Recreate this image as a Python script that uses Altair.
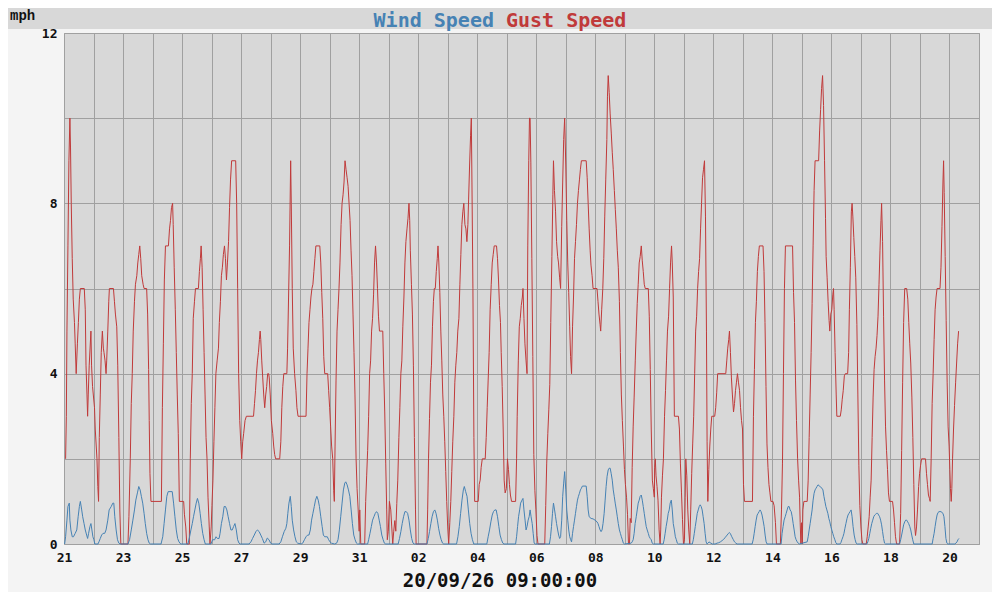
import altair as alt
import pandas as pd

# ---------------- data (hours since 21 Aug 00:00, mph) ----------------
series_names = ["Wind Speed", "Gust Speed"]
unit_label = "mph"
stamp_label = "20/09/26 09:00:00"
tick_labels = ["21", "23", "25", "27", "29", "31", "02", "04", "06", "08",
               "10", "12", "14", "16", "18", "20"]
y_ticks = [0, 2, 4, 6, 8, 10, 12]

gust_1 = [(1.3,2),(1.9,3),(2.4,5),(3.2,7),(4.0,9),(4.8,10),(5.3,9.3),(5.9,8),(6.7,6.7),(7.5,5.75),(8.5,5.2),(9.1,4.7),(9.9,4.0),(10.9,4.7),(11.7,5.2),(12.5,5.75),(13.3,6),(16.5,6),(17.3,5.5),(17.9,4.2),(18.7,3.5),(19.2,3.0),(19.7,3.5),(20.5,4.2),(21.9,5),(22.4,4.2),(23.2,3.7),
          (24.8,3.2),(25.4,2.7),(26.8,2.0),(27.5,1.35),(28.1,1.0),(28.7,2.5),(29.5,3.5),(30.3,4.5),(31.2,5),(32.0,4.6),(32.5,4.5),(33.4,4.3),(34.2,4.0),(34.7,4.3),(35.6,5.0),(36.4,5.7),(36.9,6),(40.2,6),(41.0,5.7),(41.8,5.4),(42.9,5.1),(43.7,4.2),(44.6,2.5),(45.4,0.8),(46.2,0),
          (52.0,0),(52.8,0.65),(53.9,2),(54.7,3.3),(55.5,4.0),(56.3,5),(57.3,5.7),(58.1,6.1),(59.2,6.3),(60.0,6.6),(60.8,6.8),(61.6,7),(62.4,6.7),(63.2,6.3),(64.3,6.1),(65.1,6),(67.2,6),(68.0,5.4),(68.8,4.1),(69.3,2.9),(69.9,1.66),(70.7,1.0),
          (79.2,1.0),(80.0,3.2),(80.8,4.7),(81.6,6.2),(82.5,7),(84.9,7),(85.8,7.4),(86.6,7.6),(87.4,7.9),(88.3,8),(88.8,7.5),(89.6,6.5),(90.5,5.5),(91.3,4.5),(92.1,3.5),(92.9,2.6),(93.8,1.0),
          (97.3,1.0),(97.9,0.7),(99.0,0.4),(99.8,0),(101.9,0),(102.7,2.0),(103.5,3.3),(104.3,4.0),(105.1,5.3),(106.1,5.7),(106.9,6),(109.3,6),(110.1,6.4),(110.9,6.7),(111.5,7),(112.3,6.5),(113.1,5.5),(113.9,4.5),(114.7,3.5),(115.5,2.5),(116.3,2.0),(117.1,1.1),(118.1,0.4),(118.7,0),(119.7,0.4),
          (120.3,0.9),(121.1,1.5),(121.9,2.4),(122.7,3.2),(123.5,4.0),(124.5,4.3),(125.6,4.6)]

gust_2 = [(126.3,5.2),(127.2,5.7),(128.0,6.3),(128.8,6.5),(129.6,6.8),(130.5,7.0),(131.3,6.7),(132.1,6.2),(132.9,6.6),(133.8,7.1),(134.6,7.9),(135.4,8.55),(136.3,9),(139.6,9),(140.4,8),(141.2,6),(142.0,4),(142.9,2.9),(143.7,2.4),
          (144.5,2.0),(145.3,2.4),(146.1,2.6),(147.2,2.9),(148.3,3.0),(154.1,3.0),(154.9,3.3),(155.7,3.6),(156.5,4.0),(157.3,4.3),(158.1,4.5),(158.9,4.8),(159.5,5.0),(160.0,4.8),(160.8,4.3),(161.6,3.9),(162.4,3.5),(163.2,3.2),(164.0,3.5),(164.8,3.7),(165.6,4.0),(166.4,4.0),(166.9,3.9),(167.7,3.5),
          (168.6,2.9),(169.7,2.6),(170.5,2.3),(171.3,2.1),(172.1,2.0),(175.4,2.0),(176.3,2.4),(177.1,3.2),(177.9,3.7),(178.7,4.0),(181.2,4.0),(181.8,4.6),(182.6,5.8),(183.4,7.0),(184.3,9.0),(184.8,8.0),(185.6,6.0),(186.4,4.6),(187.5,4.0),(188.6,3.6),(189.4,3.2),(190.3,3.0),
          (196.8,3.0),(197.6,4.0),(198.4,4.6),(199.2,5.2),(200.0,5.5),(200.8,5.8),(201.6,6.0),(202.4,6.1),(203.2,6.4),(204.0,6.7),(204.8,7.0),(208.0,7.0),(208.8,6.6),(209.6,5.9),(210.4,5.3),(211.2,4.4),(212.0,4.0),(214.4,4.0),(215.2,3.6),
          (216.0,3.2),(216.8,2.75),(217.6,2.3),(218.5,2.0),(219.3,1.25),(219.8,1.0),(220.4,2.3),(221.2,3.85),(222.0,5.0),(222.8,5.5),(223.6,6.0),(224.4,6.6),(225.3,7.5),(226.1,8.0),(226.9,8.2),(227.7,8.5),(228.5,9.0),(229.3,8.8),(230.2,8.6),(231.0,8.4),(231.8,8.0),(232.6,7.6),(233.4,6.9),(234.2,6.3),(235.0,5.4),(235.8,4.5),(236.6,3.5),(237.5,2.0),(238.3,1.3),(239.2,0.8),(240.0,0.3)]

gust_3 = [(240.5,0.8),(241.3,0),(244.5,0),(245.3,1.0),(246.1,1.6),(246.9,2.2),(247.7,3.0),(248.5,4.0),(249.3,4.3),(250.1,5.0),(250.9,5.3),(251.7,5.85),(252.5,6.6),(253.3,7.0),(254.1,6.6),(254.9,6.0),(255.7,5.35),(256.5,5.0),(259.2,5.0),(260.0,4.0),(260.8,3.1),(261.6,1.9),(262.4,0.8),(262.9,0.1),(263.7,0.3),
          (264.6,1.0),(265.7,0.8),(266.5,0.4),(267.3,0),(268.1,0.3),(269.0,0.55),(269.8,0.3),(270.6,0.95),(271.4,1.5),(272.3,2.5),(273.1,3.2),(273.9,4.0),(274.7,4.3),(275.5,5.1),(276.4,5.8),(277.2,6.6),(278.0,7.1),(278.9,7.4),(279.7,7.65),(280.5,8.0),(281.1,7.6),(281.6,6.9),(282.5,6.1),(283.3,5.4),(284.1,4.2),(284.9,2.5),(285.8,0.8),(286.3,0),
          (295.1,0),(295.7,0.8),(296.4,2.0),(297.2,2.95),(298.0,3.8),(298.8,4.2),(299.6,5.1),(300.4,5.7),(301.1,6.0),(301.9,6.0),(302.7,6.4),(303.5,6.7),(304.1,7.0),(304.8,6.6),(305.6,5.9),(306.4,5.0),(307.2,4.3),(308.0,3.5),(308.8,3.0),(309.6,2.4),(310.4,1.7),(311.2,1.0),
          (312.0,0.4),(312.8,0),(313.7,0.5),(314.5,1.0),(315.3,1.7),(316.1,2.4),(317.0,3.0),(317.8,3.8),(318.6,4.2),(319.4,4.5),(320.2,5.0),(321.1,5.3),(321.9,6.1),(322.7,6.8),(323.5,7.5),(324.3,7.8),(325.1,8.0),(326.0,7.5),(326.8,7.4),(327.6,7.1),(328.4,7.5),(329.0,8.1),(329.8,8.9),(330.6,9.6),(331.2,10.0),(331.7,8.5),(332.5,6.0),(333.3,2.5),(333.9,1.0),
          (336.8,1.0),(337.6,1.4),(338.4,1.5),(339.2,1.8),(340.1,2.0),(342.5,2.0),(343.3,2.5),(344.1,3.2),(344.9,3.85),(345.7,4.5),(346.5,5.5),(347.4,6.1),(348.2,6.6),(349.0,6.8),(349.8,7.0),(351.7,7.0),(352.5,6.7),(353.3,6.2),(354.1,5.6),(354.9,5.2),(355.5,4.5),(356.3,3.7),(357.1,2.7),(357.9,1.5),(358.7,1.2)]

gust_4 = [(359.7,1.3),(360.6,2.0),(361.4,1.75),(362.2,1.4),(363.0,1.15),(363.9,1.0),(367.2,1.0),(368.0,2.0),(368.5,3.0),(369.4,4.3),(370.2,5.1),(371.0,5.3),(371.8,5.6),(372.7,5.8),(373.2,6.0),(374.0,5.3),(374.8,4.7),(375.7,4.3),(376.5,4.0),(377.1,7.0),(377.9,9.0),(378.5,10.0),(379.0,10.0),(379.6,8.95),(380.4,6.7),(381.2,4.4),(382.0,2.1),(382.9,1.25),(383.7,0.8),
          (384.6,0.2),(385.4,0),(390.9,0),(391.7,0.9),(392.5,1.9),(393.4,2.6),(394.2,3.15),(395.0,3.75),(395.8,5.2),(396.7,6.75),(397.5,8.2),(398.0,9.0),(398.8,8.3),(399.7,7.8),(400.5,7.1),(401.4,6.75),(402.1,6.6),(403.0,6.25),(403.8,6.0),(404.7,7.45),(405.5,8.5),(406.3,9.5),(407.1,10.0),
          (408.0,8.9),(408.8,7.6),(409.6,6.6),(410.4,5.9),(411.2,5.1),(411.9,4.4),(412.7,4.0),(413.5,5.1),(414.3,5.8),(415.1,6.7),(415.9,7.1),(416.7,7.5),(417.5,8.0),(418.3,8.3),(419.1,8.55),(419.9,8.8),(420.7,9.0),(424.6,9.0),(425.4,8.6),(426.2,8.0),(427.0,7.4),(427.8,6.9),(428.5,6.55),(429.4,6.3),(430.2,6.0),
          (433.4,6.0),(434.2,5.7),(435.0,5.4),(435.9,5.15),(436.4,5.0),(437.2,5.5),(438.1,6.0),(438.9,6.7),(439.7,7.7),(440.5,8.55),(441.4,9.5),(441.9,10.5),(442.5,11.0),(443.3,10.6),(444.1,10.1),(445.0,9.65),(445.8,9.2),(446.6,8.8),(447.5,8.3),(448.3,7.85),(449.1,7.4),(449.9,6.9),(450.7,6.5),(451.6,5.7),(452.4,4.5),(453.2,3.5),(454.0,2.9),(454.9,2.3),(455.7,1.75),
          (456.5,1.4),(457.4,1.1),(458.2,0.7),(459.0,0),(459.8,0),(460.4,0.6),(461.2,0.5),(462.0,1.8),(462.8,2.75),(463.6,3.45),(464.5,4.3),(465.3,5.0),(466.1,5.65),(466.9,6.1),(467.7,6.6),(468.5,6.75),(469.4,7.0),(470.2,6.65),(471.0,6.4),(471.8,6.1),(472.6,6.0),(475.1,6.0),(475.9,5.35),(476.7,4.1),(477.5,2.7),(478.4,1.5),(479.2,1.3),(480.0,1.1)]

gust_5 = [(480.3,1.8),(480.8,2.0),(481.4,1.6),(482.2,1.35),(483.0,1.03),(483.9,0.33),(484.7,0),(485.2,0.33),(485.8,1.1),(486.6,1.6),(487.4,2.0),(488.3,3.0),(489.1,3.6),(489.9,4.3),(490.7,5.0),(491.6,5.35),(492.4,6.0),(493.2,6.6),(494.0,7.0),(494.6,6.6),(495.4,5.8),(496.3,3.0),(499.6,3.0),(500.4,2.7),(501.2,1.9),(502.1,1.2),(502.9,0.57),(503.7,0),
          (504.5,0.1),(505.1,1.1),(505.6,2.0),(506.4,1.6),(507.2,0.8),(508.0,0.33),(508.8,0),(509.6,0.8),(510.4,1.66),(511.2,2.35),(512.0,3.0),(512.8,4.0),(513.6,5.0),(514.4,5.35),(515.2,6.0),(516.0,6.4),(516.8,6.7),(517.6,7.4),(518.4,8.0),(519.2,8.6),(520.0,8.8),(520.8,9.0),(521.6,7.7),(522.4,5.0),(522.9,2.4),(523.5,1.0),(524.3,1.75),(525.1,2.3),(525.9,2.7),(526.7,3.0),
          (529.1,3.0),(529.9,3.2),(530.7,3.55),(531.5,4.0),(538.1,4.0),(538.9,4.3),(539.7,4.6),(540.5,4.8),(541.1,5.0),(541.9,4.5),(542.7,3.9),(543.5,3.5),(544.4,3.1),(545.2,3.3),(546.0,3.6),(546.8,3.8),(547.6,4.0),(548.4,3.8),(549.3,3.6),(550.1,3.2),(550.9,2.9),(551.7,2.7),
          (552.5,1.4),(553.3,1.0),(559.8,1.0),(560.6,3.0),(561.4,4.1),(562.2,5.2),(563.0,5.7),(563.8,6.4),(564.6,6.75),(565.4,7.0),(568.4,7.0),(569.2,6.4),(570.0,5.2),(570.8,3.7),(571.6,2.35),(572.4,1.8),(573.2,1.4),(574.0,1.2),(574.8,1.0),
          (576.5,1.0),(577.4,0.9),(578.5,0.5),(579.3,0),(582.5,0),(583.4,0.8),(584.2,1.9),(585.0,4.0),(585.8,6.0),(586.6,7.0),(592.4,7.0),(593.2,5.9),(594.0,5.2),(594.8,3.85),(595.6,2.9),(596.5,2.0),(597.3,1.5),(598.1,1.1)]

gust_6 = [(598.6,0.5),(599.2,0),(599.7,0.5),(600.3,0),(600.8,0.8),(601.6,1.0),(604.3,1.0),(605.1,1.5),(605.9,2.5),(606.7,3.5),(607.5,4.5),(608.3,5.65),(609.1,7.0),(609.9,8.3),(610.7,9.0),(613.6,9.0),(614.4,9.7),(615.2,10.2),(616.0,10.7),(616.8,11.0),(617.6,10.3),(618.4,9.0),(619.2,7.65),(619.7,6.75),(620.5,6.25),(621.3,5.7),(622.1,5.25),(622.7,5.0),(623.5,5.4),
          (624.3,5.5),(625.1,5.85),(625.7,6.0),(626.2,5.5),(627.0,4.5),(627.9,3.5),(628.4,3.0),(631.2,3.0),(632.0,3.15),(632.8,3.4),(633.6,3.6),(634.5,3.95),(635.3,4.0),(637.2,4.0),(638.0,4.5),(638.6,5.5),(639.4,6.5),(640.2,7.8),(640.8,8.0),(641.4,7.7),(642.2,7.2),(643.0,6.75),(643.8,6.25),(644.7,5.15),(645.5,3.5),(646.3,1.85),(647.1,0.9),
          (648.0,0.4),(648.8,0.1),(649.6,0),(652.3,0),(653.1,0.17),(653.9,0.4),(654.7,0.64),(655.5,1.1),(656.3,1.5),(657.1,2.5),(657.9,3.45),(658.7,4.1),(659.5,4.4),(660.3,4.6),(661.1,4.9),(661.9,5.35),(662.7,6.1),(663.5,6.9),(664.3,7.6),(664.8,8.0),(665.6,7.1),(666.4,5.35),(667.2,3.85),(668.0,2.75),(668.8,2.2),(669.6,1.75),(670.4,1.2),(671.2,1.0),
          (673.7,1.0),(674.5,0.8),(675.3,0.5),(676.1,0.17),(677.0,0),(679.4,0),(680.3,0.72),(681.1,2.2),(681.9,3.8),(682.7,5.2),(683.6,6.0),(685.2,6.0),(686.1,5.75),(686.9,5.2),(687.7,4.7),(688.5,4.25),(689.4,3.45),(690.2,2.5),(691.0,1.4),(691.8,0.4),(692.4,0.2),(693.2,0.4),(694.0,0.8),(694.9,1.35),(695.7,1.66),
          (696.5,1.85),(697.3,2.0),(700.5,2.0),(701.3,1.66),(702.1,1.4),(702.9,1.15),(703.7,1.07),(704.3,1.0),(705.1,2.0),(705.9,3.3),(706.7,4.0),(707.5,4.8),(708.3,5.5),(709.1,5.8),(709.9,6.0),(712.3,6.0),(713.1,6.5),(713.9,7.45),(714.7,8.5),(715.2,9.0),(715.7,8.25),(716.5,6.75),(717.3,5.25),(718.1,3.8),(718.9,2.75),(719.7,2.3),
          (720.3,1.75),(720.8,1.3),(721.4,1.0),(721.9,1.3),(722.5,2.0),(723.3,2.7),(724.1,3.25),(725.0,3.8),(725.8,4.25),(726.6,4.7),(727.4,5.0)]

wind_1 = [(0.5,0),(1.3,0.17),(2.4,0.56),(3.2,0.88),(4.3,0.96),(4.8,0.56),(5.6,0.33),(6.7,0.17),(7.7,0.17),(9.1,0.25),(10.4,0.33),(11.5,0.64),(12.5,0.88),(13.3,1.0),(14.4,0.8),(15.2,0.64),(16.3,0.48),(17.3,0.33),(18.4,0.21),(19.2,0.13),(20.0,0.25),(21.1,0.41),(21.9,0.48),(22.7,0.33),(23.5,0.17),
          (24.3,0.1),(25.1,0),(27.6,0),(28.4,0.05),(29.5,0.13),(30.6,0.21),(31.7,0.25),(33.1,0.25),(34.2,0.33),(35.6,0.56),(36.7,0.8),(38.4,0.88),(39.7,0.96),(40.5,0.96),(41.3,0.64),(42.4,0.33),(43.5,0.1),(44.6,0.02),(45.7,0),
          (52.0,0),(53.3,0.1),(54.7,0.33),(56.0,0.56),(57.3,0.8),(58.4,1.03),(59.7,1.2),(60.8,1.35),(61.9,1.27),(62.9,1.12),(64.0,0.96),(65.1,0.72),(66.1,0.48),(67.2,0.25),(68.3,0.1),(69.3,0.02),(70.4,0),
          (78.9,0),(80.3,0.17),(81.4,0.48),(82.5,0.8),(83.6,1.12),(84.7,1.23),(88.0,1.23),(89.1,0.96),(90.2,0.64),(91.3,0.33),(92.4,0.13),(93.5,0.05),(94.9,0),
          (100.8,0),(102.1,0.17),(103.2,0.33),(104.3,0.48),(105.3,0.64),(106.4,0.8),(107.5,0.96),(108.5,1.07),(109.6,0.96),(110.7,0.72),(111.7,0.48),(112.8,0.25),(113.9,0.1),(114.9,0),(119.5,0),(120.8,0.1)]

wind_2 = [(122.5,0.1),(123.6,0.17),(124.7,0.13),(126.1,0.13),(126.9,0.25),(128.0,0.48),(129.1,0.64),(130.2,0.88),(131.3,0.88),(132.4,0.8),(133.5,0.64),(134.6,0.48),(135.7,0.33),(136.8,0.33),(137.9,0.41),(139.0,0.48),(140.1,0.33),(141.2,0.1),(142.3,0.02),(143.4,0),
          (150.4,0),(152.0,0.05),(153.3,0.13),(154.7,0.21),(156.0,0.29),(157.3,0.33),(158.7,0.29),(160.0,0.21),(161.3,0.13),(162.7,0.02),(164.0,0.05),(165.3,0.14),(166.7,0.1),(168.0,0.02),(169.1,0),
          (174.9,0),(176.3,0.05),(177.6,0.17),(179.0,0.29),(180.4,0.37),(181.2,0.48),(182.0,0.72),(182.9,0.96),(184.0,1.12),(184.8,0.88),(185.6,0.56),(186.7,0.33),(187.8,0.17),(188.9,0.05),(190.0,0.02),
          (192.8,0),(194.1,0.02),(195.5,0.1),(196.8,0.17),(198.1,0.21),(199.2,0.21),(200.3,0.33),(201.3,0.56),(202.4,0.72),(203.5,0.88),(204.5,1.03),(205.6,1.12),(206.7,1.03),(207.7,0.88),(208.8,0.64),(209.9,0.41),(210.9,0.21),(212.0,0.17),(213.1,0.17),(214.1,0.17),(215.2,0.1),
          (216.3,0.05),(217.4,0.02),(220.1,0),(221.7,0.02),(222.8,0.1),(223.9,0.33),(225.0,0.64),(226.1,0.96),(227.2,1.27),(228.3,1.43),(229.1,1.46),(230.2,1.39),(231.3,1.27),(232.4,1.12),(233.5,0.8),(234.5,0.48),(235.6,0.21),(236.7,0.1),(237.8,0.02),(238.6,0)]

wind_3 = [(246.9,0),(247.7,0.1),(248.8,0.25),(249.9,0.41),(250.9,0.56),(252.0,0.64),(253.1,0.72),(254.1,0.76),(255.2,0.72),(256.3,0.56),(257.3,0.41),(258.4,0.21),(259.5,0.1),(260.5,0.02),(261.6,0),
          (271.7,0),(272.8,0.13),(273.9,0.29),(275.0,0.48),(276.1,0.64),(277.2,0.76),(278.3,0.76),(279.4,0.72),(280.5,0.56),(281.6,0.33),(282.7,0.13),(283.8,0.02),(284.9,0),
          (295.1,0),(296.2,0.13),(297.2,0.29),(298.3,0.48),(299.3,0.64),(300.4,0.76),(301.5,0.8),(302.5,0.72),(303.6,0.56),(304.6,0.37),(305.7,0.21),(306.7,0.1),(307.8,0.02),(308.8,0),
          (319.2,0),(320.3,0.17),(321.4,0.41),(322.5,0.72),(323.6,1.03),(324.7,1.27),(325.5,1.35),(326.6,1.23),(327.7,1.12),(328.8,0.8),(329.9,0.48),(331.0,0.25),(332.1,0.1),(333.2,0),
          (343.8,0),(344.9,0.17),(346.0,0.33),(347.1,0.52),(348.2,0.68),(349.2,0.76),(350.3,0.8),(351.4,0.8),(352.5,0.64),(353.6,0.41),(354.6,0.21),(355.7,0.1),(356.8,0.02),(357.8,0)]

wind_4 = [(367.2,0),(368.0,0.17),(368.8,0.41),(369.6,0.64),(370.5,0.8),(371.3,0.96),(372.4,1.03),(373.2,1.07),(374.0,0.8),(374.9,0.56),(375.7,0.33),(376.5,0.41),(377.4,0.56),(378.2,0.64),(379.0,0.8),(379.8,0.64),(380.7,0.48),(381.5,0.25),(382.3,0.02),(383.1,0),
          (394.7,0),(395.6,0.17),(396.4,0.41),(397.2,0.72),(398.0,0.96),(398.9,0.8),(399.7,0.64),(400.5,0.48),(401.4,0.33),(402.2,0.21),(403.0,0.13),(403.8,0.17),(404.7,0.56),(405.5,1.12),(406.3,1.43),(407.1,1.7),
          (408.0,1.27),(408.8,0.8),(409.6,0.56),(410.4,0.33),(411.2,0.17),(412.0,0.1),(412.7,0.05),(413.5,0.25),(414.3,0.41),(415.1,0.56),(415.9,0.72),(416.7,0.88),(417.5,1.03),(418.3,1.12),(419.1,1.19),(419.9,1.27),(420.7,1.31),(421.5,1.36),(424.6,1.36),(425.4,1.12),(426.2,0.8),(427.0,0.64),(428.6,0.6),(430.2,0.59),(431.8,0.56),
          (433.4,0.52),(434.2,0.48),(435.0,0.41),(435.9,0.33),(436.7,0.29),(437.5,0.33),(438.3,0.48),(439.2,0.72),(440.0,1.03),(440.8,1.35),(441.6,1.59),(442.5,1.74),(443.3,1.78),(444.1,1.78),(444.9,1.66),(445.8,1.5),(446.6,1.27),(447.4,1.12),(448.2,0.96),(449.1,0.8),(449.9,0.64),(450.7,0.48),(451.6,0.33),(452.4,0.25),(453.2,0.17),(454.0,0.1),(454.8,0.02),(455.7,0),
          (461.2,0.02),(462.0,0.05),(462.8,0.1),(463.6,0.25),(464.4,0.48),(465.3,0.64),(466.1,0.8),(466.9,0.96),(467.7,1.03),(468.5,1.12),(469.4,1.15),(470.2,1.03),(471.0,0.88),(471.8,0.72),(472.6,0.56),(473.4,0.41),(474.2,0.33),(475.1,0.25),(475.9,0.17),(476.7,0.13),(477.5,0.1),(478.3,0.02),(479.2,0)]

wind_5 = [(487.2,0),(488.0,0.1),(488.8,0.25),(489.6,0.41),(490.5,0.56),(491.3,0.72),(492.1,0.8),(492.9,0.96),(493.8,1.03),(494.6,0.8),(495.4,0.48),(496.3,0.33),(497.1,0.17),(497.9,0.1),(498.7,0.02),(499.6,0),
          (510.9,0),(511.7,0.1),(512.5,0.25),(513.3,0.41),(514.1,0.56),(514.9,0.72),(515.7,0.8),(516.5,0.88),(517.3,0.92),(518.1,0.88),(518.9,0.8),(519.7,0.64),(520.5,0.48),(521.3,0.25),(522.1,0.05),(522.9,0),(523.7,0.02),(524.5,0.05),(525.3,0.03),(526.1,0.02),(527.2,0),
          (529.4,0),(531.0,0.02),(532.4,0.03),(533.7,0.05),(535.1,0.08),(536.4,0.11),(537.8,0.16),(539.2,0.21),(540.3,0.25),(541.1,0.27),(541.9,0.24),(543.0,0.17),(544.1,0.11),(545.2,0.05),(546.3,0.02),(547.3,0),
          (559.5,0),(560.4,0.1),(561.2,0.25),(562.0,0.41),(562.8,0.56),(563.6,0.68),(564.4,0.72),(565.2,0.76),(566.0,0.8),(566.8,0.76),(567.6,0.68),(568.4,0.56),(569.3,0.41),(570.1,0.21),(570.9,0.05),(571.7,0),
          (583.1,0),(583.9,0.25),(584.7,0.41),(585.5,0.56),(586.4,0.64),(587.2,0.72),(588.0,0.8),(588.8,0.88),(589.6,0.88),(590.4,0.8),(591.3,0.76),(592.1,0.64),(592.9,0.48),(593.7,0.33),(594.5,0.17),(595.3,0.1),(596.2,0.05),(597.0,0.02),(597.8,0)]

wind_6 = [(604.3,0.05),(605.1,0.17),(605.9,0.33),(606.7,0.48),(607.5,0.64),(608.3,0.8),(609.1,1.03),(609.9,1.19),(610.7,1.27),(611.5,1.31),(612.3,1.35),(613.1,1.39),(613.9,1.37),(614.7,1.35),(615.5,1.33),(616.3,1.31),(617.1,1.27),(617.9,1.12),(618.7,1.0),(619.5,0.88),(620.3,0.8),(621.1,0.72),(621.9,0.6),(622.7,0.52),(623.5,0.41),
          (624.3,0.33),(625.1,0.25),(625.9,0.17),(626.8,0.1),(627.6,0.03),(628.4,0),(630.9,0),(631.7,0.03),(632.5,0.1),(633.4,0.17),(634.2,0.25),(635.0,0.37),(635.8,0.48),(636.7,0.6),(637.5,0.68),(638.3,0.72),(639.2,0.76),(640.0,0.8),(640.8,0.64),(641.6,0.41),(642.5,0.21),(643.3,0.1),(644.1,0.02),(645.0,0),
          (652.8,0),(653.6,0.05),(654.4,0.13),(655.2,0.25),(656.0,0.37),(656.8,0.48),(657.6,0.56),(658.4,0.64),(659.2,0.68),(660.0,0.7),(660.8,0.72),(661.6,0.72),(662.4,0.68),(663.2,0.64),(664.0,0.56),(664.8,0.45),(665.6,0.29),(666.4,0.13),(667.2,0.02),(668.0,0),
          (679.4,0),(680.3,0.1),(681.1,0.21),(681.9,0.33),(682.7,0.45),(683.6,0.52),(684.4,0.56),(685.2,0.56),(686.0,0.52),(686.8,0.48),(687.7,0.41),(688.5,0.33),(689.3,0.21),(690.1,0.1),(691.0,0),
          (705.9,0),(706.7,0.13),(707.5,0.25),(708.3,0.41),(709.1,0.56),(709.9,0.68),(710.7,0.74),(711.5,0.76),(713.1,0.76),(714.7,0.72),(715.5,0.64),(716.3,0.41),(717.1,0.13),(717.9,0.02),(718.7,0),
          (724.4,0),(725.2,0.02),(726.1,0.05),(726.9,0.1),(727.7,0.13)]

# ---------------- build tables ----------------
def table(segments, name):
    rows = [{"hour": h, "mph": v, "series": name} for seg in segments for (h, v) in seg]
    return pd.DataFrame(rows)

wind_df = table([wind_1, wind_2, wind_3, wind_4, wind_5, wind_6], series_names[0])
gust_df = table([gust_1, gust_2, gust_3, gust_4, gust_5, gust_6], series_names[1])

BLUE = "#4682b4"
RED = "#c03a3a"
GRID = "#a0a0a0"
FONT = "DejaVu Sans Mono"

W, H = 915, 511
PAD = {"left": 56, "top": 25, "right": 13, "bottom": 48}

label_array = "[" + ",".join("'" + t + "'" for t in tick_labels) + "]"
x_label_expr = ("datum.value % 48 == 0 && datum.value < 744 ? "
                + label_array + "[datum.value / 48] : ''")

x_enc = alt.X(
    "hour:Q",
    scale=alt.Scale(domain=[0, 744], nice=False, zero=False),
    axis=alt.Axis(
        values=list(range(0, 745, 24)),
        labelExpr=x_label_expr,
        title=None, grid=True, ticks=False, domain=False, labelFlush=False,
        labelOverlap=False, labelPadding=7,
    ),
)
y_enc = alt.Y(
    "mph:Q",
    scale=alt.Scale(domain=[0, 12], nice=False),
    axis=alt.Axis(
        values=y_ticks,
        labelExpr="datum.value % 4 == 0 ? datum.label : ''",
        title=None, grid=True, ticks=False, domain=False, labelPadding=7,
    ),
)

gust_line = alt.Chart(gust_df).mark_line(color=RED, strokeWidth=1).encode(x=x_enc, y=y_enc)
wind_line = alt.Chart(wind_df).mark_line(color=BLUE, strokeWidth=1).encode(x=x_enc, y=y_enc)

one = pd.DataFrame({"k": [0]})
band = alt.Chart(one).mark_rect(color="#d8d8d8").encode(
    x=alt.value(-PAD["left"]), x2=alt.value(W + PAD["right"]),
    y=alt.value(-PAD["top"]), y2=alt.value(-4),
)

title_df = pd.DataFrame({"name": series_names})
title_wind = alt.Chart(title_df).transform_filter(
    alt.datum.name == series_names[0]
).mark_text(font=FONT, fontSize=20, fontWeight="bold", align="right",
            baseline="alphabetic", color=BLUE).encode(
    x=alt.value(430), y=alt.value(-6), text="name:N")
title_gust = alt.Chart(title_df).transform_filter(
    alt.datum.name == series_names[1]
).mark_text(font=FONT, fontSize=20, fontWeight="bold", align="left",
            baseline="alphabetic", color=RED).encode(
    x=alt.value(442), y=alt.value(-6), text="name:N")

unit_text = alt.Chart(pd.DataFrame({"t": [unit_label]})).mark_text(
    font="Liberation Mono", fontSize=14, fontWeight="bold", align="left",
    baseline="alphabetic", color="#111111").encode(
    x=alt.value(-54), y=alt.value(-13), text="t:N")

stamp_text = alt.Chart(pd.DataFrame({"t": [stamp_label]})).mark_text(
    font=FONT, fontSize=19, fontWeight="bold", align="center",
    baseline="alphabetic", color="#111111").encode(
    x=alt.value(436), y=alt.value(554), text="t:N")

chart = alt.layer(
    band, title_wind, title_gust, unit_text, stamp_text, gust_line, wind_line
).properties(
    width=W, height=H,
    padding=PAD,
    autosize=alt.AutoSizeParams(type="none"),
    background="#f4f4f4",
).configure_view(
    fill="#d8d8d8", stroke=GRID, strokeWidth=1,
).configure_axis(
    gridColor=GRID, gridOpacity=1, gridWidth=1,
    labelFont=FONT, labelFontSize=13, labelFontWeight="bold", labelColor="#111111",
)

chart.save("out.html", embed_options={"renderer": "svg", "actions": False})
